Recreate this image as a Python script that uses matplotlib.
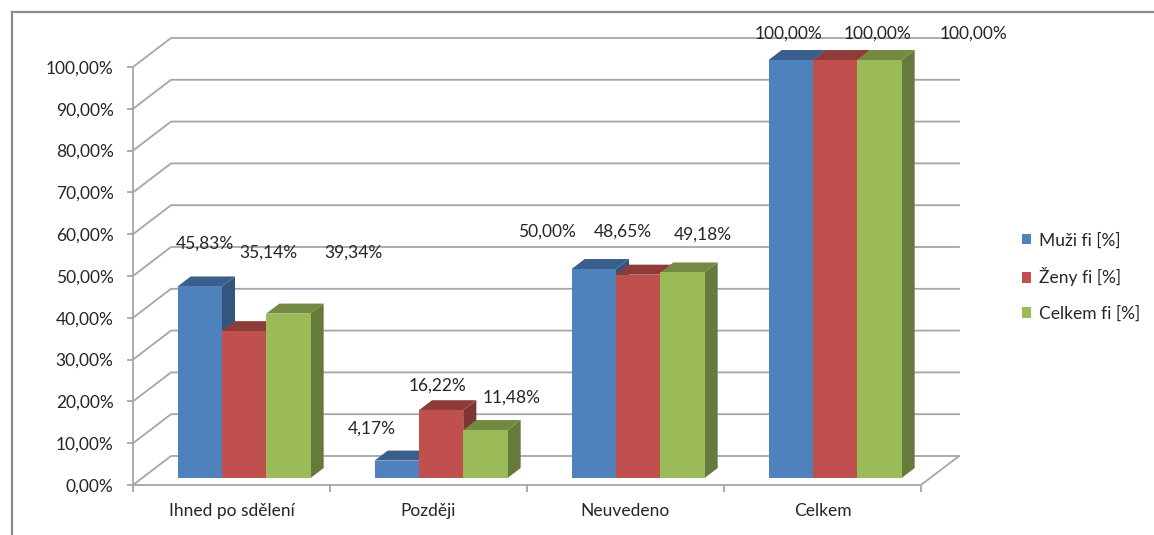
import matplotlib.pyplot as plt
from matplotlib.patches import Polygon, Patch
from matplotlib.lines import Line2D
from matplotlib.colors import to_rgb

plt.rcParams['font.family'] = ['Lato', 'DejaVu Sans']

# Data
categories = ['Ihned po sdělení', 'Později', 'Neuvedeno', 'Celkem']
series = ['Muži fi [%]', 'Ženy fi [%]', 'Celkem fi [%]']
muzi = [45.83, 4.17, 50.00, 100.00]
zeny = [35.14, 16.22, 48.65, 100.00]
celkem = [39.34, 11.48, 49.18, 100.00]
values = [muzi, zeny, celkem]
colors = ['#4F81BD', '#C0504D', '#9BBB59']

# label anchor points (category units, percent) as Excel placed them
label_xy = [
    [(0.365, 57.7), (1.213, 13.6), (2.10, 60.5), (3.325, 107.9)],
    [(0.685, 55.5), (1.548, 23.7), (2.487, 60.5), (3.777, 107.9)],
    [(1.117, 55.5), (1.924, 20.8), (2.893, 59.8), (4.269, 107.9)],
]

W, H = 1154, 535
fs = 12.5
fig = plt.figure(figsize=(W / 100, H / 100), dpi=100)
ax = fig.add_axes([133 / W, 50 / H, 788 / W, 418 / H])
n = len(categories)
ax.set_xlim(0, n)
ax.set_ylim(0, 100)
ax.patch.set_alpha(0)

grid_c = '#a6a6a6'
txt_c = '#262626'

# depth of the floor / back wall (data units)
dx, dy = 0.193, 6.94

# back wall gridlines
for v in range(0, 101, 10):
    ax.plot([0, dx, n + dx], [v, v + dy, v + dy], color=grid_c, lw=1.3,
            clip_on=False, zorder=1)
ax.plot([n, n + dx], [0, dy], color=grid_c, lw=1.3, clip_on=False, zorder=1)

# axes
for s in ['top', 'right']:
    ax.spines[s].set_visible(False)
for s in ['left', 'bottom']:
    ax.spines[s].set_color(grid_c)
    ax.spines[s].set_linewidth(1.3)
ax.set_yticks(range(0, 101, 10))
ax.set_yticklabels([f'{v},00%' for v in range(0, 101, 10)])
ax.tick_params(axis='y', length=4, width=1.3, color=grid_c, pad=10,
               labelsize=fs, labelcolor=txt_c)
ax.set_xticks(range(0, n + 1))
ax.set_xticklabels([])
ax.tick_params(axis='x', which='major', length=5, width=1.3, color=grid_c)
ax.set_xticks([i + 0.5 for i in range(n)], minor=True)
ax.set_xticklabels(categories, minor=True)
ax.tick_params(axis='x', which='minor', length=0, pad=13, labelsize=fs,
               labelcolor=txt_c)


def shade(c, f):
    r, g, b = to_rgb(c)
    return (r * f, g * f, b * f)


# 3D-looking bars
off, bw = 0.18, 0.225
fd0, fd1 = 0.24, 0.585
ddx, ddy = (fd1 - fd0) * dx, (fd1 - fd0) * dy
for i in range(n):
    for j, vals in enumerate(values):
        v = vals[i]
        x0 = i + off + j * bw + fd0 * dx
        x1 = x0 + bw
        y0 = fd0 * dy
        top = y0 + v
        c = colors[j]
        ax.add_patch(Polygon([(x1, y0), (x1 + ddx, y0 + ddy),
                              (x1 + ddx, top + ddy), (x1, top)],
                             closed=True, fc=shade(c, 0.66), ec='none',
                             clip_on=False, zorder=3))
        ax.add_patch(Polygon([(x0, top), (x1, top), (x1 + ddx, top + ddy),
                              (x0 + ddx, top + ddy)],
                             closed=True, fc=shade(c, 0.74), ec='none',
                             clip_on=False, zorder=3))
        ax.add_patch(Polygon([(x0, y0), (x1, y0), (x1, top), (x0, top)],
                             closed=True, fc=c, ec='none',
                             clip_on=False, zorder=3))

# data labels
for j, vals in enumerate(values):
    for i, v in enumerate(vals):
        lx, ly = label_xy[j][i]
        ax.text(lx, ly, f'{v:.2f}%'.replace('.', ','), ha='center',
                va='center', fontsize=fs, color=txt_c, zorder=5,
                clip_on=False)

# legend
handles = [Patch(fc=c, ec='none') for c in colors]
fig.legend(handles, series, loc='center left',
           bbox_to_anchor=(1006 / W, 1 - 277 / H), frameon=False,
           fontsize=fs, handlelength=0.55, handleheight=0.55,
           handletextpad=0.45, labelspacing=1.1, labelcolor=txt_c)

# chart area border (cropped at right/bottom)
fig.add_artist(Line2D([12 / W, 1], [1 - 12 / H, 1 - 12 / H],
                      transform=fig.transFigure, color='#8c8c8c', lw=1.6))
fig.add_artist(Line2D([12 / W, 12 / W], [0, 1 - 12 / H],
                      transform=fig.transFigure, color='#8c8c8c', lw=1.6))

fig.savefig('out.png', dpi=100)
plt.close(fig)
